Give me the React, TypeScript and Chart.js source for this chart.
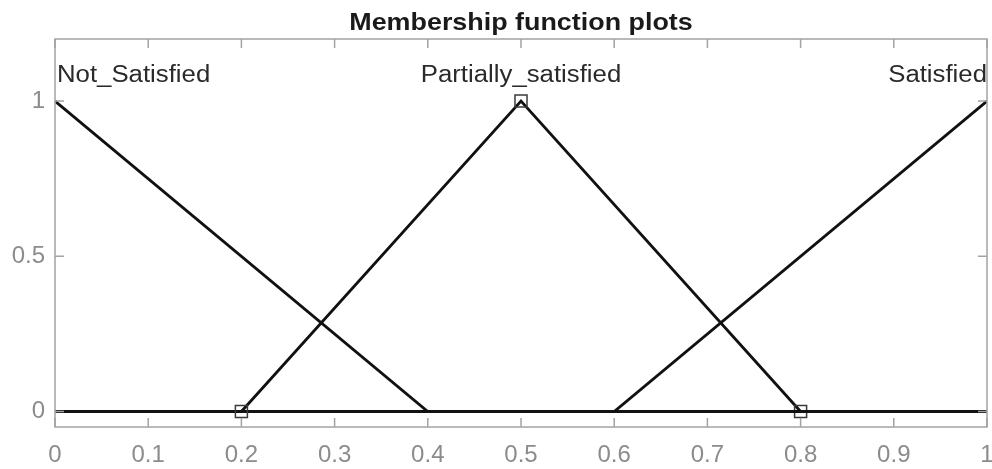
import React, { useEffect, useRef } from 'react';
import { Chart, registerables } from 'chart.js';

Chart.register(...registerables);

const TITLE = 'Membership function plots';
const xTickValues = [0, 0.1, 0.2, 0.3, 0.4, 0.5, 0.6, 0.7, 0.8, 0.9, 1];
const yTickValues = [0, 0.5, 1];
const mfNames = ['Not_Satisfied', 'Partially_satisfied', 'Satisfied'];
const labelX = [0, 0.5, 1];
const labelAlign: CanvasTextAlign[] = ['left', 'center', 'right'];
const labelY = 1.06;

const notSatisfiedX = [0, 0.4, 1];
const notSatisfiedY = [1, 0, 0];
const partiallyX = [0, 0.2, 0.5, 0.8, 1];
const partiallyY = [0, 0, 1, 0, 0];
const partiallyMarked = [false, true, true, true, false];
const satisfiedX = [0, 0.6, 1];
const satisfiedY = [0, 0, 1];

const FONT = '"Liberation Sans", Arial, Helvetica, sans-serif';
const STRETCH = 1.12;

const toPoints = (xs: number[], ys: number[]) => xs.map((x, i) => ({ x, y: ys[i] }));

function drawStretched(ctx: CanvasRenderingContext2D, text: string, x: number, y: number, align: CanvasTextAlign) {
  ctx.save();
  ctx.translate(x, y);
  ctx.scale(STRETCH, 1);
  ctx.textAlign = align;
  ctx.fillText(text, 0, 0);
  ctx.restore();
}

const matlabPlugin = {
  id: 'matlabAxes',
  afterDraw(chart: any) {
    const { ctx, chartArea: a, scales } = chart;
    const xs = scales.x;
    const ys = scales.y;
    ctx.save();
    // box
    ctx.strokeStyle = '#a3a3a3';
    ctx.lineWidth = 1.5;
    ctx.strokeRect(a.left, a.top, a.right - a.left, a.bottom - a.top);
    const tl = 9;
    ctx.beginPath();
    xTickValues.forEach((v) => {
      const px = xs.getPixelForValue(v);
      ctx.moveTo(px, a.bottom);
      ctx.lineTo(px, a.bottom - tl);
      ctx.moveTo(px, a.top);
      ctx.lineTo(px, a.top + tl);
    });
    yTickValues.forEach((v) => {
      const py = ys.getPixelForValue(v);
      ctx.moveTo(a.left, py);
      ctx.lineTo(a.left + tl, py);
      ctx.moveTo(a.right, py);
      ctx.lineTo(a.right - tl, py);
    });
    ctx.stroke();
    // title
    ctx.fillStyle = '#1a1a1a';
    ctx.textBaseline = 'alphabetic';
    ctx.font = `bold 24px ${FONT}`;
    drawStretched(ctx, TITLE, (a.left + a.right) / 2, 30, 'center');
    // MF labels
    ctx.fillStyle = '#2a2a2a';
    ctx.font = `23px ${FONT}`;
    mfNames.forEach((name, i) => {
      drawStretched(ctx, name, xs.getPixelForValue(labelX[i]) + (i === 0 ? 2 : 0), ys.getPixelForValue(labelY), labelAlign[i]);
    });
    ctx.restore();
  },
};

export default function App() {
  const ref = useRef<HTMLCanvasElement>(null);
  useEffect(() => {
    if (!ref.current) return;
    const lineStyle = {
      borderColor: '#111111',
      borderWidth: 2.8,
      backgroundColor: 'transparent',
      fill: false,
      tension: 0,
    };
    const chart = new Chart(ref.current, {
      type: 'line',
      data: {
        datasets: [
          {
            ...lineStyle,
            label: mfNames[0],
            data: toPoints(notSatisfiedX, notSatisfiedY),
            pointRadius: 0,
          },
          {
            ...lineStyle,
            label: mfNames[1],
            data: toPoints(partiallyX, partiallyY),
            pointRadius: partiallyMarked.map((m) => (m ? 8.5 : 0)),
            pointStyle: 'rect',
            pointBorderColor: '#3a3a3a',
            pointBackgroundColor: 'rgba(0,0,0,0)',
            pointBorderWidth: 1.5,
          },
          {
            ...lineStyle,
            label: mfNames[2],
            data: toPoints(satisfiedX, satisfiedY),
            pointRadius: 0,
          },
        ],
      },
      options: {
        animation: false,
        responsive: false,
        devicePixelRatio: 1,
        layout: { padding: { top: 39, right: 5, left: 0, bottom: 0 } },
        plugins: {
          legend: { display: false },
          tooltip: { enabled: false },
          title: { display: false },
        },
        scales: {
          x: {
            type: 'linear',
            min: 0,
            max: 1,
            afterBuildTicks: (s: any) => {
              s.ticks = xTickValues.map((value) => ({ value }));
            },
            afterFit: (s: any) => {
              s.height = 42;
              s.paddingLeft = 0;
              s.paddingRight = 0;
            },
            ticks: {
              color: '#8c8c8c',
              font: { family: FONT, size: 24 },
              padding: 14,
              maxRotation: 0,
              autoSkip: false,
              callback: (v: any) => String(Number(Number(v).toFixed(2))),
            },
            grid: { display: false, drawTicks: false },
            border: { display: false },
          },
          y: {
            type: 'linear',
            min: -0.05,
            max: 1.2,
            afterBuildTicks: (s: any) => {
              s.ticks = yTickValues.map((value) => ({ value }));
            },
            afterFit: (s: any) => {
              s.width = 55;
              s.paddingTop = 0;
              s.paddingBottom = 0;
            },
            ticks: {
              color: '#8c8c8c',
              font: { family: FONT, size: 24 },
              padding: 10,
              callback: (v: any) => String(Number(Number(v).toFixed(2))),
            },
            grid: { display: false, drawTicks: false },
            border: { display: false },
          },
        },
      },
      plugins: [matlabPlugin],
    } as any);
    return () => chart.destroy();
  }, []);
  return (
    <div style={{ position: 'fixed', left: 0, top: 0, width: 992, height: 469, background: '#ffffff' }}>
      <canvas ref={ref} width={992} height={469} style={{ width: 992, height: 469, display: 'block' }} />
    </div>
  );
}
